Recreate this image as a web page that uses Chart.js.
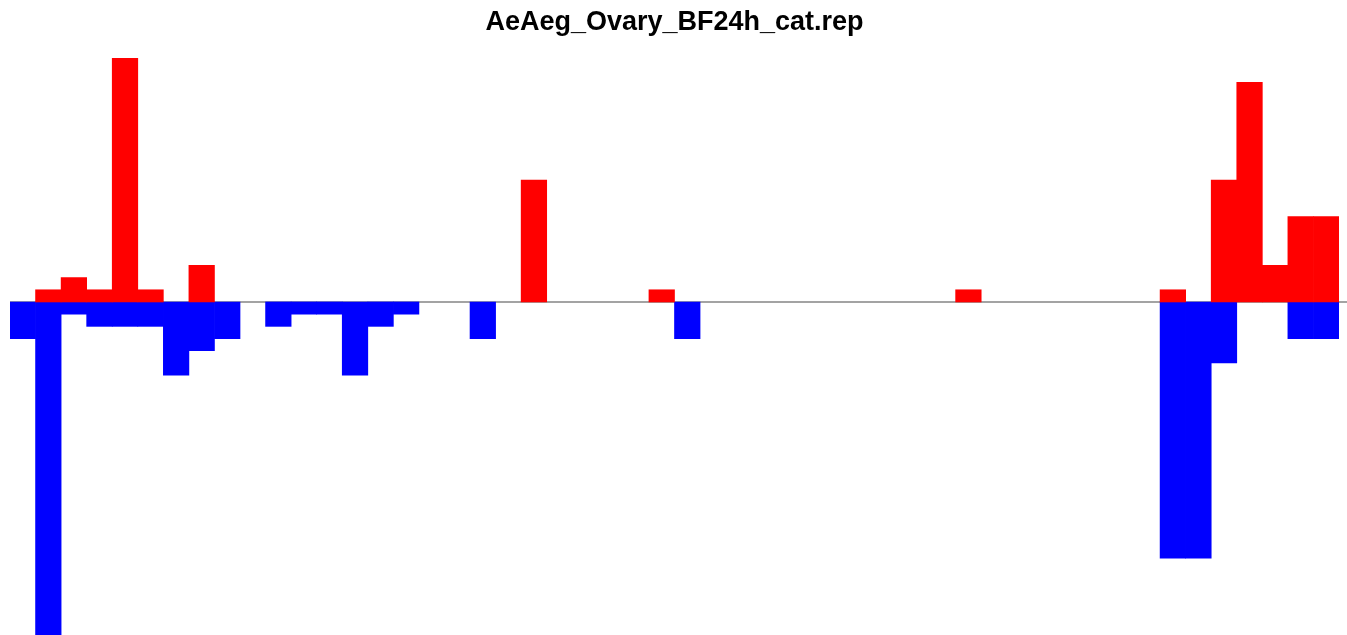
<!DOCTYPE html>
<html>
<head>
<meta charset="utf-8">
<title>AeAeg_Ovary_BF24h_cat.rep</title>
<script src="https://cdn.jsdelivr.net/npm/chart.js@4"></script>
<style>
    html, body { margin: 0; padding: 0; background: #ffffff; }
    #chart-box { width: 1347px; height: 635px; position: relative; }
</style>
</head>
<body>
<div id="chart-box"><canvas id="rep-plot"></canvas></div>
<script>
// one bin per bar, 52 bins along the sequence
const binLabels = [];
for (let i = 1; i <= 52; i++) binLabels.push(String(i));

// counts above the line (red)
const upCounts = [
    0, 1, 2, 1, 20, 1, 0, 3, 0, 0,
    0, 0, 0, 0, 0, 0, 0, 0, 0, 0,
    10, 0, 0, 0, 0, 1, 0, 0, 0, 0,
    0, 0, 0, 0, 0, 0, 0, 1, 0, 0,
    0, 0, 0, 0, 0, 1, 0, 10, 18, 3,
    7, 7
];

// counts below the line (blue), stored negative
// (the second bin runs off the bottom edge of the picture)
const downCounts = [
    -3, -28, -1, -2, -2, -2, -6, -4, -3, 0,
    -2, -1, -1, -6, -2, -1, 0, 0, -3, 0,
    0, 0, 0, 0, 0, 0, -3, 0, 0, 0,
    0, 0, 0, 0, 0, 0, 0, 0, 0, 0,
    0, 0, 0, 0, 0, -21, -21, -5, 0, 0,
    -3, -3
];

const yMin = -27.3;
const yMax = 20;

// empty bins get no bar at all, otherwise a hairline covers the zero line
function dropZeros(values) {
    return values.map(v => (v === 0 ? null : v));
}

document.addEventListener("DOMContentLoaded", function () {
    const ctx = document.getElementById('rep-plot').getContext('2d');

    // grey zero line, drawn under the bars and across the full width
    const zeroLine = {
        id: 'zeroLine',
        beforeDatasetsDraw(chart) {
            const y = chart.scales.y.getPixelForValue(0);
            const c = chart.ctx;
            c.save();
            c.strokeStyle = '#a3a3a3';
            c.lineWidth = 2;
            c.beginPath();
            c.moveTo(chart.chartArea.left, y);
            c.lineTo(chart.width, y);
            c.stroke();
            c.restore();
        }
    };

    window.repChart = new Chart(ctx, {
        type: 'bar',
        data: {
            labels: binLabels,
            datasets: [
                {
                    label: 'up',
                    data: dropZeros(upCounts),
                    backgroundColor: '#ff0000',
                    borderWidth: 0,
                    barPercentage: 1,
                    categoryPercentage: 1,
                    grouped: false
                },
                {
                    label: 'down',
                    data: dropZeros(downCounts),
                    backgroundColor: '#0000ff',
                    borderWidth: 0,
                    barPercentage: 1,
                    categoryPercentage: 1,
                    grouped: false
                }
            ]
        },
        options: {
            responsive: true,
            maintainAspectRatio: false,
            animation: false,
            layout: { padding: { left: 10, right: 8, top: 0, bottom: 0 } },
            plugins: {
                legend: { display: false },
                tooltip: { enabled: false },
                title: {
                    display: true,
                    text: 'AeAeg_Ovary_BF24h_cat.rep',
                    color: '#000000',
                    font: { family: 'Liberation Sans, Arial, sans-serif', size: 27, weight: 'bold' },
                    padding: { top: 6, bottom: 19.6 }
                }
            },
            scales: {
                x: { display: false },
                y: { display: false, min: yMin, max: yMax }
            }
        },
        plugins: [zeroLine]
    });
});
</script>
</body>
</html>
